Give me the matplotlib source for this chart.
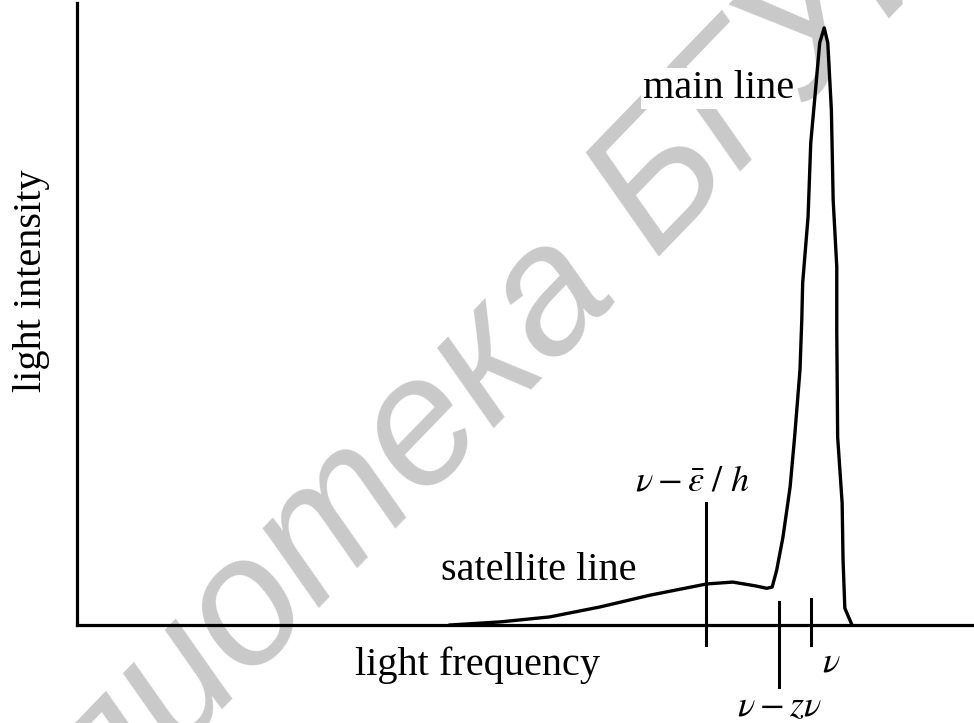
import matplotlib
matplotlib.use("Agg")
import matplotlib.pyplot as plt

plt.rcParams['font.family'] = ['Liberation Serif', 'DejaVu Serif']
plt.rcParams['mathtext.fontset'] = 'stix'

# spectrum trace (frequency, intensity) in arbitrary units
freq = [41.6, 47.2, 52.7, 58.3, 63.9, 69.5, 70.2, 73.1, 75.6, 76.9, 77.5, 78.0,
        78.7, 79.5, 80.0, 80.6, 80.8, 80.9, 81.5, 81.8, 82.3, 82.8, 83.3, 83.7,
        84.1, 84.3, 84.7, 84.7, 84.8, 85.3, 85.4, 85.6, 86.4]
intensity = [0.0, 0.5, 1.3, 2.9, 4.8, 6.4, 6.6, 6.9, 6.3, 5.9, 6.1, 8.8,
             14.1, 22.2, 30.2, 41.0, 49.0, 55.0, 65.6, 77.5, 85.5, 93.6, 96.0, 93.6,
             82.8, 68.3, 57.6, 47.4, 30.2, 19.6, 10.5, 2.7, 0.0]

# marker lines: x position, y bottom, y top
mark_x = [70.1, 78.3, 81.8]
mark_y0 = [-3.2, -10.9, -3.2]
mark_y1 = [19.6, 3.7, 4.2]
mark_labels = [r'$\nu - \bar{\varepsilon}\ /\ h$', r'$\nu - z\nu$', r'$\nu$']

fig = plt.figure(figsize=(9.74, 7.23), dpi=100)

# watermark
fig.text(0.452, 0.425, 'Библиотека БГУИР', rotation=46, fontsize=130,
         color='#c9c9c9', family=['Liberation Sans', 'DejaVu Sans'],
         style='italic', ha='center', va='center', zorder=0)

ax = fig.add_axes([77/974, (723-625)/723, (974-77)/974, (625-3)/723])
ax.set_zorder(2)
ax.patch.set_alpha(0)
ax.set_xlim(0, 100)
ax.set_ylim(0, 100)
for s in ['top', 'right']:
    ax.spines[s].set_visible(False)
for s in ['left', 'bottom']:
    ax.spines[s].set_linewidth(2.3)
ax.set_xticks([])
ax.set_yticks([])

ax.plot(freq, intensity, color='black', lw=2.4, solid_joinstyle='round')

for x, y0, y1 in zip(mark_x, mark_y0, mark_y1):
    ax.plot([x, x], [y0, y1], color='black', lw=2.2, clip_on=False)

fs = 29
box = dict(facecolor='white', edgecolor='none', pad=1.5)
ax.text(71.5, 84.7, 'main line', fontsize=fs, ha='center', va='baseline', bbox=box)
ax.text(51.5, 7.2, 'satellite line', fontsize=fs, ha='center', va='baseline', bbox=box)
ax.text(44.7, -8.0, 'light frequency', fontsize=fs, ha='center', va='baseline',
        clip_on=False, bbox=box)
ax.text(-5.1, 55.3, 'light intensity', fontsize=fs, ha='center', va='center',
        rotation=90, clip_on=False, bbox=box)
mfs = 26
ax.text(68.6, 23.0, mark_labels[0], fontsize=mfs, ha='center', va='center',
        clip_on=False, bbox=box)
ax.text(78.3, -13.3, mark_labels[1], fontsize=mfs, ha='center', va='center',
        clip_on=False, bbox=box)
ax.text(84.1, -6.1, mark_labels[2], fontsize=mfs, ha='center', va='center',
        clip_on=False, bbox=box)

fig.savefig('out.png', dpi=100)
